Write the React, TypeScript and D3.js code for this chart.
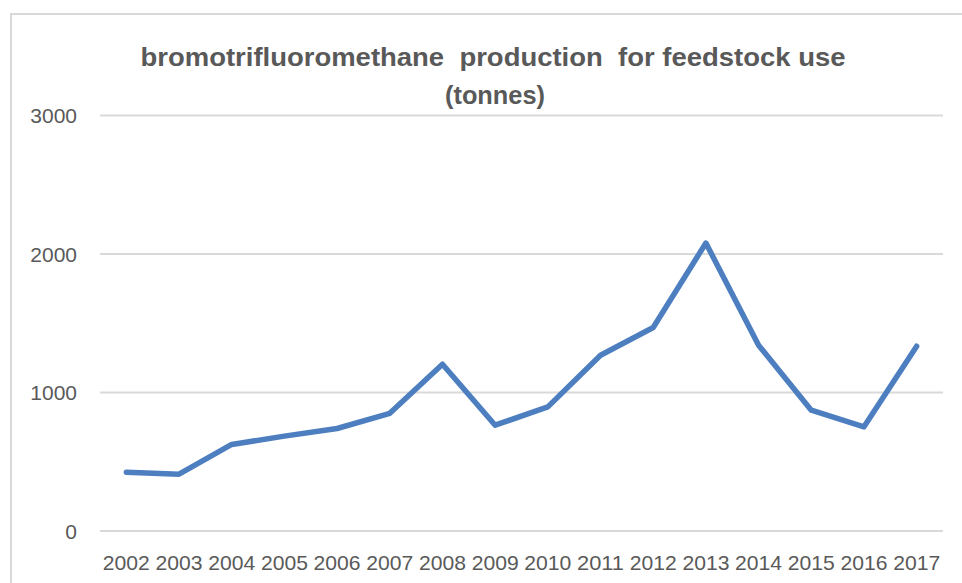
import React from 'react'
import * as d3 from 'd3'

const years = ['2002', '2003', '2004', '2005', '2006', '2007', '2008', '2009', '2010', '2011', '2012', '2013', '2014', '2015', '2016', '2017']
const production = [425, 410, 625, 685, 740, 850, 1204, 764, 896, 1269, 1469, 2079, 1341, 872, 752, 1334]
const yTicks = [0, 1000, 2000, 3000]
const titleLines = ['bromotrifluoromethane  production  for feedstock use', '(tonnes)']

const width = 962
const height = 583
const font = '"Liberation Sans", Arial, sans-serif'
const textColor = '#595959'

export default function App() {
    // d3 scales
    const x = d3.scaleBand().domain(years).range([100, 943])
    const y = d3.scaleLinear().domain([0, 3000]).range([531, 115.5])

    const line = d3
        .line<number>()
        .x((d, i) => x(years[i])! + x.bandwidth() / 2)
        .y((d) => y(d))

    return (
        <svg width={width} height={height} style={{ position: 'absolute', left: 0, top: 0, background: '#fff' }}>
            <rect x={11} y={14} width={980} height={600} fill="#fff" stroke="#d9d9d9" strokeWidth={2} />

            {/* title */}
            <text x={493} y={66} textAnchor="middle" fontFamily={font} fontWeight="bold" fontSize={26} fill={textColor}
                textLength={705} lengthAdjust="spacingAndGlyphs" style={{ whiteSpace: 'pre' }}>
                {titleLines[0]}
            </text>
            <text x={495} y={104} textAnchor="middle" fontFamily={font} fontWeight="bold" fontSize={26} fill={textColor}
                textLength={100} lengthAdjust="spacingAndGlyphs">
                {titleLines[1]}
            </text>

            {/* gridlines + y labels */}
            {yTicks.map((t) => (
                <g key={t}>
                    <line x1={100} x2={943} y1={y(t)} y2={y(t)} stroke="#d9d9d9" strokeWidth={2} />
                    <text x={77} y={y(t)} dy="0.36em" textAnchor="end" fontFamily={font} fontSize={21} fill={textColor}>
                        {t}
                    </text>
                </g>
            ))}

            {/* x labels */}
            {years.map((yr) => (
                <text key={yr} x={x(yr)! + x.bandwidth() / 2} y={570} textAnchor="middle" fontFamily={font} fontSize={21} fill={textColor}
                    textLength={47} lengthAdjust="spacingAndGlyphs">
                    {yr}
                </text>
            ))}

            <path d={line(production) ?? ''} fill="none" stroke="#4d7fc0" strokeWidth={5.5} strokeLinejoin="round" strokeLinecap="round" />
        </svg>
    )
}
